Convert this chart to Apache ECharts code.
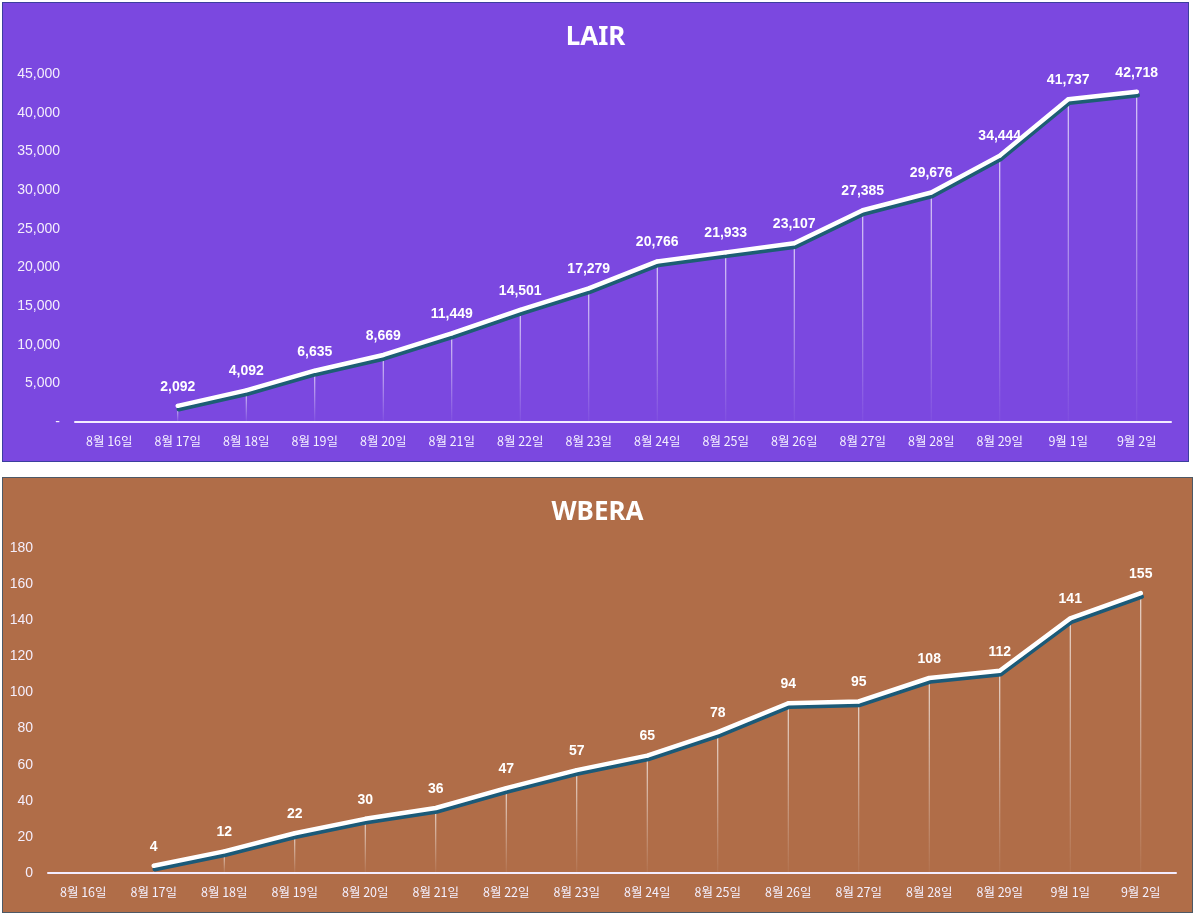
<!DOCTYPE html>
<html>
<head>
<meta charset="utf-8">
<script src="https://cdn.jsdelivr.net/npm/echarts@6/dist/echarts.min.js"></script>
<style>
  body { margin: 0; background: #ffffff; }
  #lair { position: absolute; left: 2px; top: 2px; width: 1185px; height: 458px;
          background: #7b48e0; border: 1px solid #3b3f9e; }
  #wbera { position: absolute; left: 2px; top: 477px; width: 1189px; height: 434px;
           background: #b06d48; border: 1px solid #4d5966; }
</style>
</head>
<body>
<div id="lair"></div>
<div id="wbera"></div>
<script>
// 날짜 (공통 x축)
var days = ['8월 16일', '8월 17일', '8월 18일', '8월 19일', '8월 20일', '8월 21일', '8월 22일',
            '8월 23일', '8월 24일', '8월 25일', '8월 26일', '8월 27일', '8월 28일', '8월 29일',
            '9월 1일', '9월 2일'];
// LAIR 누적값 (8월 16일은 값 없음)
var lairValues = [null, 2092, 4092, 6635, 8669, 11449, 14501, 17279, 20766, 21933, 23107,
                  27385, 29676, 34444, 41737, 42718];
// WBERA 누적값
var wberaValues = [null, 4, 12, 22, 30, 36, 47, 57, 65, 78, 94, 95, 108, 112, 141, 155];

function makeOption(title, values, yMax, yStep, grid, yFmt, lineGlow) {
    return {
        animation: false,
        title: {
            text: title,
            left: 'center',
            top: 17,
            textStyle: { color: '#ffffff', fontSize: 26, fontWeight: 'bold', fontFamily: 'Noto Sans' }
        },
        grid: grid,
        xAxis: {
            type: 'category',
            data: days,
            axisLine: { lineStyle: { color: '#f3ecff', width: 2 } },
            axisTick: { show: false },
            axisLabel: {
                color: '#f4f0ff', fontSize: 12.5, margin: 13,
                fontFamily: 'Noto Sans CJK KR', interval: 0
            }
        },
        yAxis: {
            type: 'value',
            min: 0,
            max: yMax,
            interval: yStep,
            axisLine: { show: false },
            axisTick: { show: false },
            splitLine: { show: false },
            axisLabel: {
                color: '#f4eefc', fontSize: 14, margin: 15,
                fontFamily: 'Liberation Sans', formatter: yFmt
            }
        },
        series: [{
            // 각 점에서 x축까지 내려오는 가는 선
            type: 'bar',
            data: values,
            barWidth: 1,
            silent: true,
            z: 1,
            itemStyle: {
                color: new echarts.graphic.LinearGradient(0, 0, 0, 1, [
                    { offset: 0, color: 'rgba(255,255,255,0.9)' },
                    { offset: 1, color: 'rgba(255,255,255,0.05)' }
                ])
            }
        }, {
            type: 'line',
            data: values,
            z: 3,
            symbol: 'circle',
            symbolSize: 4,
            itemStyle: { color: '#ffffff' },
            lineStyle: {
                color: '#ffffff', width: 4.5, cap: 'round', join: 'round',
                shadowColor: lineGlow, shadowOffsetY: 3.5, shadowOffsetX: 1, shadowBlur: 0
            },
            label: {
                show: true,
                position: 'top',
                distance: 10,
                color: '#ffffff',
                fontSize: 14,
                fontWeight: 'bold',
                fontFamily: 'Liberation Sans',
                formatter: function (p) { return p.value.toLocaleString('en-US'); }
            }
        }]
    };
}

var lairChart = echarts.init(document.getElementById('lair'));
lairChart.setOption(makeOption('LAIR', lairValues, 45000, 5000,
    { left: 72, top: 71, width: 1096, height: 348 },
    function (v) { return v === 0 ? '-' : v.toLocaleString('en-US'); },
    '#1d5e74'));

var wberaChart = echarts.init(document.getElementById('wbera'));
wberaChart.setOption(makeOption('WBERA', wberaValues, 180, 20,
    { left: 45, top: 70, width: 1128, height: 325 },
    function (v) { return String(v); },
    '#1b5a78'));
</script>
</body>
</html>
